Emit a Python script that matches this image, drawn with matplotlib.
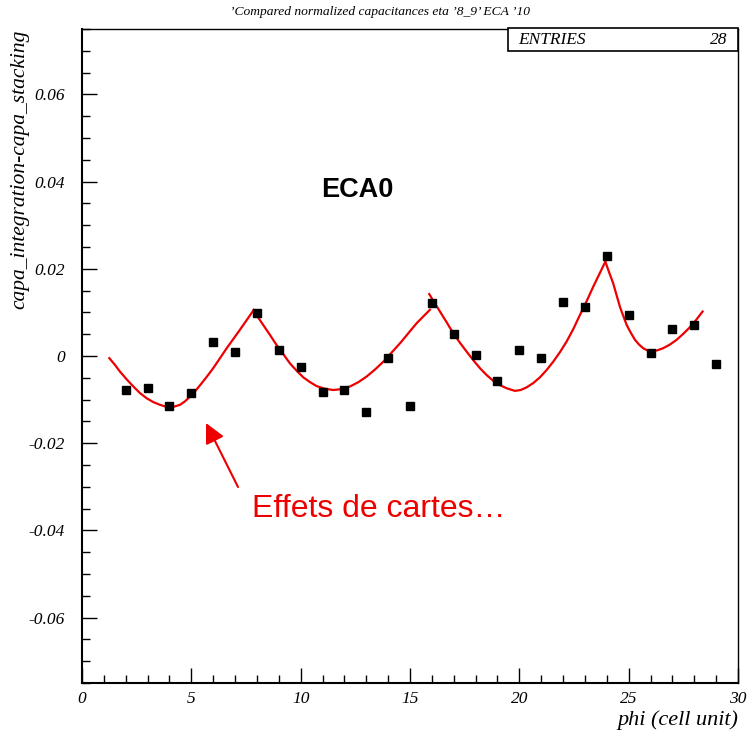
import numpy as np
import matplotlib
matplotlib.use("Agg")
import matplotlib.pyplot as plt
from matplotlib.patches import Rectangle
from matplotlib.ticker import MultipleLocator

plt.rcParams["axes.unicode_minus"] = False

# ── measured points (phi cell, capa difference) ─────────────────────────────
phi = np.arange(2, 30)
capa = [-0.0079, -0.0073, -0.0114, -0.0085, 0.0031, 0.0009, 0.0099, 0.0013,
        -0.0026, -0.0083, -0.0079, -0.0128, -0.0005, -0.0115, 0.0121, 0.0051,
        0.0003, -0.0057, 0.0014, -0.0005, 0.0125, 0.0112, 0.0230, 0.0093,
        0.0007, 0.0061, 0.0070, -0.0018]

# ── fit curve, one piece per board ──────────────────────────────────────────
fit_x1 = [1.25, 1.50, 1.74, 2.05, 2.35, 2.65, 2.96, 3.27, 3.57, 3.95, 4.22, 4.48,
          4.71, 4.94, 5.17, 5.40, 5.70, 6.00, 6.31, 6.62, 6.92, 7.22, 7.54, 7.86]
fit_y1 = [-0.0005, -0.0020, -0.0036, -0.0054, -0.0070, -0.0085, -0.0097, -0.0106,
          -0.0112, -0.0118, -0.0116, -0.0112, -0.0104, -0.0093, -0.0081, -0.0067,
          -0.0048, -0.0028, -0.0005, 0.0018, 0.0039, 0.0060, 0.0083, 0.0106]
fit_x2 = [7.83, 8.06, 8.29, 8.60, 8.90, 9.21, 9.51, 9.82, 10.12, 10.43, 10.73, 11.10,
          11.49, 11.87, 12.25, 12.64, 13.02, 13.40, 13.78, 14.16, 14.54, 14.92, 15.30, 15.91]
fit_y2 = [0.0104, 0.0088, 0.0071, 0.0048, 0.0025, 0.0004, -0.0017, -0.0034,
          -0.0049, -0.0060, -0.0069, -0.0075, -0.0078, -0.0076, -0.0070, -0.0060,
          -0.0047, -0.0031, -0.0013, 0.0008, 0.0029, 0.0052, 0.0075, 0.0106]
fit_x3 = [15.88, 16.12, 16.37, 16.68, 16.98, 17.29, 17.59, 17.90, 18.20, 18.51, 18.81,
          19.12, 19.42, 19.80, 20.06, 20.33, 20.64, 20.94, 21.25, 21.55, 21.86, 22.16,
          22.47, 22.77, 23.08, 23.38, 23.66, 23.93]
fit_y3 = [0.0142, 0.0122, 0.0102, 0.0077, 0.0052, 0.0030, 0.0010, -0.0010,
          -0.0028, -0.0044, -0.0057, -0.0067, -0.0074, -0.0080, -0.0078, -0.0072,
          -0.0062, -0.0049, -0.0032, -0.0013, 0.0009, 0.0033, 0.0062, 0.0094,
          0.0126, 0.0159, 0.0188, 0.0216]
fit_x4 = [23.95, 24.12, 24.29, 24.45, 24.60, 24.76, 24.91, 25.10, 25.29, 25.48, 25.66,
          25.85, 26.05, 26.31, 26.58, 26.88, 27.19, 27.50, 27.80, 28.09, 28.38]
fit_y4 = [0.0214, 0.0190, 0.0167, 0.0139, 0.0113, 0.0091, 0.0071, 0.0053,
          0.0037, 0.0026, 0.0018, 0.0013, 0.0011, 0.0013, 0.0018, 0.0026,
          0.0037, 0.0051, 0.0066, 0.0083, 0.0102]

n_entries = 28

W, H = 747, 736
fig = plt.figure(figsize=(W / 100, H / 100), dpi=100)
ax = fig.add_axes([82 / W, 1 - 683 / H, (738 - 82) / W, (683 - 29) / H])

serif_it = dict(family="Liberation Serif", style="italic")

for fx, fy in [(fit_x1, fit_y1), (fit_x2, fit_y2), (fit_x3, fit_y3), (fit_x4, fit_y4)]:
    ax.plot(fx, fy, color="#ee0000", lw=1.6, solid_joinstyle="round", zorder=2)
ax.plot(phi, capa, "s", color="black", ms=5.8, zorder=3)

ax.set_xlim(0, 30)
ax.set_ylim(-0.075, 0.075)
ax.xaxis.set_major_locator(MultipleLocator(5))
ax.xaxis.set_minor_locator(MultipleLocator(1))
ax.yaxis.set_minor_locator(MultipleLocator(0.005))
yt = np.arange(-0.06, 0.061, 0.02)
ax.set_yticks(yt)
ax.set_yticklabels([f"{v:g}" if abs(v) > 1e-9 else "0" for v in yt])
ax.tick_params(which="major", direction="in", length=11, width=1, color="black")
ax.tick_params(which="minor", direction="in", length=5.5, width=1, color="black")
ax.tick_params(axis="y", pad=12.5)
ax.tick_params(axis="x", pad=6)
ax.tick_params(top=False, right=False, which="both")
for lab in ax.get_xticklabels() + ax.get_yticklabels():
    lab.set_fontfamily("Liberation Serif")
    lab.set_fontstyle("italic")
    lab.set_fontsize(12.5)
for s in ["left", "bottom"]:
    ax.spines[s].set_linewidth(1.5)
for s in ["top", "right"]:
    ax.spines[s].set_linewidth(1.0)

fig.text(380 / W, 1 - 12 / H, "\u2019Compared normalized capacitances eta \u20198_9\u2019 ECA \u201910",
         ha="center", va="center", fontsize=9.7, **serif_it)
fig.text(20 / W, 1 - 30 / H, "capa_integration-capa_stacking", rotation=90,
         ha="center", va="top", fontsize=15.5, **serif_it)
fig.text(738 / W, 1 - 720 / H, "phi (cell unit)", ha="right", va="center",
         fontsize=16, **serif_it)

# statistics box
fig.patches.append(Rectangle((508 / W, 1 - 51 / H), (738 - 508) / W, 23 / H,
                             transform=fig.transFigure, fill=True, fc="white",
                             ec="black", lw=1.2, zorder=5))
fig.text(518 / W, 1 - 40 / H, "ENTRIES", ha="left", va="center", fontsize=12.5,
         zorder=6, **serif_it)
fig.text(727 / W, 1 - 40 / H, f"{n_entries}", ha="right", va="center", fontsize=12.5,
         zorder=6, **serif_it)

ax.text(357 / W, 1 - 190 / H, "ECA0", transform=fig.transFigure, ha="center",
        va="center", fontsize=19.5, fontweight="bold", family="Liberation Sans")
ax.text(252 / W, 1 - 517 / H, "Effets de cartes\u2026", transform=fig.transFigure,
        ha="left", va="baseline", fontsize=23, color="#ee0000", family="Liberation Sans")
ax.annotate("", xy=(206 / W, 1 - 423 / H), xytext=(238 / W, 1 - 487 / H),
            xycoords="figure fraction", textcoords="figure fraction",
            arrowprops=dict(arrowstyle="-|>,head_length=1.2,head_width=0.6",
                            color="#ee0000", lw=1.5, shrinkA=0, shrinkB=0))

fig.savefig("out.png", dpi=100)
